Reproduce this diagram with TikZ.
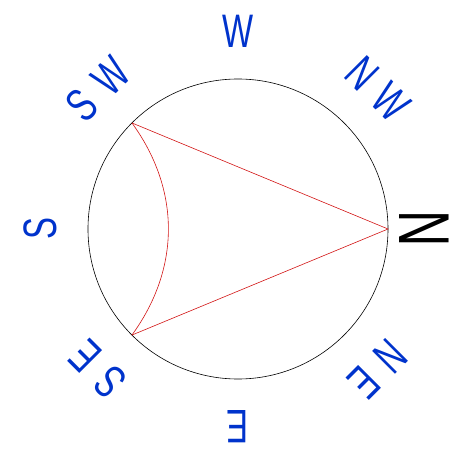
\documentclass[tikz,border=0pt]{standalone}
\usepackage{fontspec}
\newfontfamily\compassfont[FakeStretch=0.7, LetterSpace=30]{Liberation Sans}
\usepackage{tikz}
\definecolor{dirblue}{RGB}{0,51,204}
\definecolor{edgered}{RGB}{210,20,20}

\begin{document}
\begin{tikzpicture}[
    x=1pt, y=1pt,
    dir/.style={text=dirblue, font=\compassfont\fontsize{47}{47}\selectfont, inner sep=0pt},
    north/.style={text=black, font=\compassfont\fontsize{72}{72}\selectfont, inner sep=0pt},
    rim/.style={draw=black, line width=0.6pt},
    side/.style={draw=edgered, line width=0.6pt}
]
\useasboundingbox (-238,-224) rectangle (211,229);
\coordinate (o) at (0,0);
\draw[rim] (o) circle[radius=150];
\coordinate (a) at (0:150);
\coordinate (b) at (135:150);
\coordinate (c) at (225:150);
\draw[side] (b) -- (a) -- (c);
\draw[side] (b) to[bend left=36] (c);
\foreach \ang/\txt in {45/NW, 90/W, 135/SW, 180/S, 225/SE, 270/E, 315/NE}
  \node[dir, rotate=\ang-90] (d\ang) at (\ang:198) {\txt};
\node[north, rotate=-90] (dn) at (0:186) {N};
\end{tikzpicture}
\end{document}
